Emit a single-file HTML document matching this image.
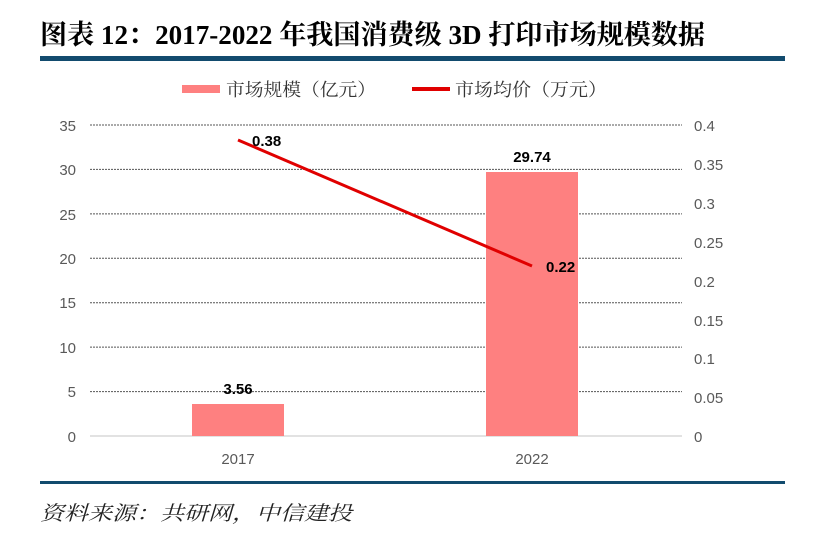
<!DOCTYPE html>
<html><head><meta charset="utf-8"><style>
body{margin:0;background:#fff;width:816px;height:537px;overflow:hidden}
</style></head><body>
<svg width="816" height="537" xmlns="http://www.w3.org/2000/svg" style="position:absolute;left:0;top:0">
<text x="40" y="44" font-family="Liberation Serif, Noto Serif CJK SC, serif" font-weight="bold" font-size="27" fill="#000" textLength="665" lengthAdjust="spacingAndGlyphs">图表 12：2017-2022 年我国消费级 3D 打印市场规模数据</text>
<rect x="40" y="56" width="745" height="5" fill="#124b6e"/>
<rect x="182" y="85" width="38" height="8" fill="#fe8080"/>
<text x="226" y="96" font-family="Noto Serif CJK SC, serif" font-size="18" fill="#333" textLength="150" lengthAdjust="spacingAndGlyphs">市场规模（亿元）</text>
<rect x="412" y="87" width="38" height="4" fill="#e00000"/>
<text x="455" y="96" font-family="Noto Serif CJK SC, serif" font-size="18" fill="#333" textLength="152" lengthAdjust="spacingAndGlyphs">市场均价（万元）</text>
<g stroke="#555" stroke-width="1" stroke-dasharray="2,1">
<line x1="90" x2="682" y1="125" y2="125"/><line x1="90" x2="682" y1="169.4" y2="169.4"/>
<line x1="90" x2="682" y1="213.9" y2="213.9"/><line x1="90" x2="682" y1="258.3" y2="258.3"/>
<line x1="90" x2="682" y1="302.7" y2="302.7"/><line x1="90" x2="682" y1="347.1" y2="347.1"/>
<line x1="90" x2="682" y1="391.6" y2="391.6"/>
</g>
<line x1="90" x2="682" y1="436" y2="436" stroke="#d9d9d9" stroke-width="1.5"/>
<g font-family="Liberation Sans, sans-serif" font-size="15" fill="#595959" text-anchor="end">
<text x="76" y="131">35</text><text x="76" y="175">30</text><text x="76" y="220">25</text><text x="76" y="264">20</text><text x="76" y="308">15</text><text x="76" y="353">10</text><text x="76" y="397">5</text><text x="76" y="442">0</text>
</g>
<g font-family="Liberation Sans, sans-serif" font-size="15" fill="#595959">
<text x="694" y="131">0.4</text><text x="694" y="170">0.35</text><text x="694" y="209">0.3</text><text x="694" y="248">0.25</text><text x="694" y="287">0.2</text><text x="694" y="326">0.15</text><text x="694" y="364">0.1</text><text x="694" y="403">0.05</text><text x="694" y="442">0</text>
</g>
<rect x="192" y="404" width="92" height="32" fill="#fe8080"/>
<rect x="486" y="172" width="92" height="264" fill="#fe8080"/>
<line x1="238" y1="140" x2="532" y2="266" stroke="#e00000" stroke-width="3"/>
<g font-family="Liberation Sans, sans-serif" font-size="15" font-weight="bold" fill="#000">
<text x="252" y="146">0.38</text><text x="546" y="272">0.22</text>
<text x="238" y="394" text-anchor="middle">3.56</text><text x="532" y="162" text-anchor="middle">29.74</text>
</g>
<g font-family="Liberation Sans, sans-serif" font-size="15" fill="#595959" text-anchor="middle">
<text x="238" y="464">2017</text><text x="532" y="464">2022</text>
</g>
<rect x="40" y="481" width="745" height="3" fill="#124b6e"/>
<text x="40" y="520" font-family="Noto Serif CJK SC, serif" font-style="italic" font-size="20" fill="#222" textLength="312" lengthAdjust="spacingAndGlyphs">资料来源：共研网，中信建投</text>
</svg>
</body></html>
